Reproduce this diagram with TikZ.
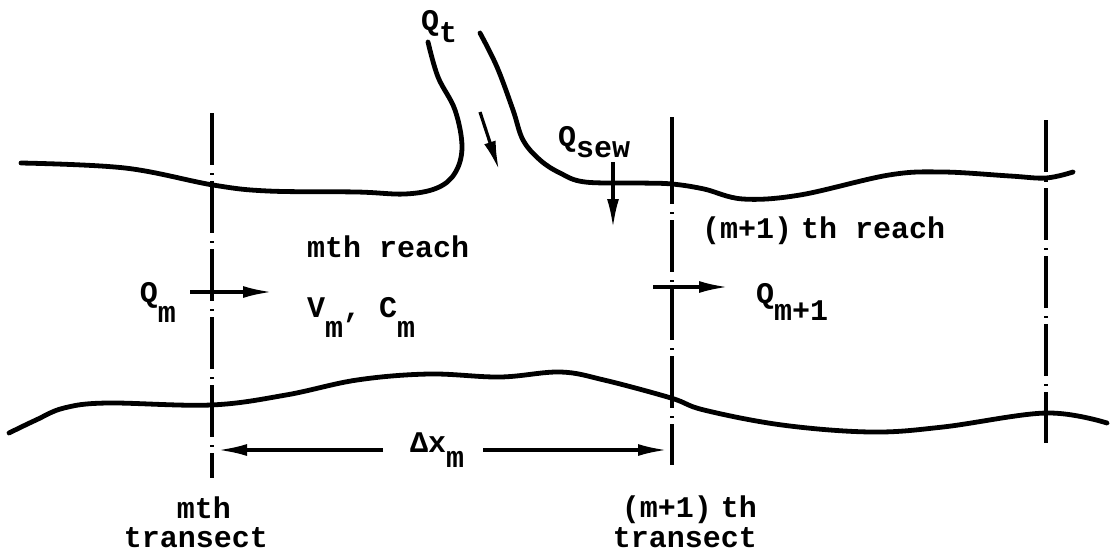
\documentclass[tikz,border=0pt]{standalone}
\usepackage{fontspec}
\setmonofont{Liberation Mono}
\usepackage{tikz}
\usetikzlibrary{arrows.meta}
\newcommand{\lo}[2][15pt]{\raisebox{-#1}{#2}}

\begin{document}
\begin{tikzpicture}[x=1pt, y=-1pt, >={Latex[length=29pt,width=12pt]},
  font={\fontsize{30}{30}\selectfont\ttfamily\bfseries},
  bank/.style={line width=4.8pt, line cap=round, line join=round},
  transect/.style={line width=3.2pt, dash pattern=on 52pt off 8pt on 2pt off 6pt},
  flow/.style={line width=3.2pt, ->},
  lbl/.style={inner sep=0pt, anchor=base west}]
  \useasboundingbox (0,0) rectangle (1113,555);
  % river banks and tributary
  \draw[bank] plot[smooth, tension=0.6] coordinates {(21,163) (125,168) (213,185) (268,191) (357,192) (405,194) (437,188) (455,173) (462,147) (455,110) (438,77) (428,42)};
  \draw[bank] plot[smooth, tension=0.6] coordinates {(480,33) (497,67) (513,110) (523,140) (540,160) (560,173) (585,182) (640,183) (672,184) (704,189) (743,199) (800,195) (889,175) (943,172) (1010,176) (1046,178) (1073,172)};
  \draw[bank] plot[smooth, tension=0.6] coordinates {(9,433) (36,420) (64,408) (107,403) (211,405) (286,395) (357,380) (429,374) (500,377) (560,372) (604,380) (671,398) (704,410) (782,425) (871,432) (943,427) (1046,413) (1107,423)};
  % transects
  \foreach \n/\x/\a/\b/\p in {1/212/113/478/0, 2/672/117/465/33, 3/1046/120/443/0} {
    \coordinate (t\n a) at (\x,\a); \coordinate (t\n b) at (\x,\b);
    \draw[transect, dash phase=\p pt] (t\n a) -- (t\n b);
  }
  \draw[line width=3.2pt] (t2a) -- ++(0,68);
  % labels
  \node[lbl] (qt) at (421,30) {Q\lo[12pt]{t}};
  \node[lbl] (qsew) at (558,146) {Q\lo[11pt]{sew}};
  \node[lbl] (reachm) at (307,257) {mth reach};
  \node[lbl] (vc) at (307,317) {V\lo[20pt]{m}, C\lo[20pt]{m}};
  \node[lbl, anchor=base east] (qm) at (176,302) {Q\lo[20pt]{m}};
  \node[lbl] (reachn) at (702,238) {(m+1)\kern-.3em\ th reach};
  \node[lbl] (qn) at (756,303) {Q\lo[17pt]{m+1}};
  \node[lbl] (dx) at (410,452) {Δx\lo[15pt]{m}};
  \node[lbl, anchor=base] (tra1) at (204,518) {mth};
  \node[lbl, anchor=base] (trb1) at (196,547) {transect};
  \node[lbl, anchor=base east] (tra2) at (757,517) {(m+1)\kern-.3em\ th};
  \node[lbl, anchor=base east] (trb2) at (757,547) {transect};
  % flows
  \coordinate (qta) at (480,112); \coordinate (qtb) at (499,170);
  \coordinate (qsa) at (613,162); \coordinate (qsb) at (613,228);
  \coordinate (qma) at (190,292); \coordinate (qmb) at (272,292);
  \coordinate (qna) at (653,287); \coordinate (qnb) at (728,287);
  \coordinate (dxa) at (383,450); \coordinate (dxb) at (483,450);
  \draw[flow] (qta) -- (qtb);
  \draw[flow] (qsa) -- (qsb);
  \draw[flow] (qma) -- (qmb);
  \draw[flow] (qna) -- (qnb);
  \draw[flow] (dxa) -- (218,450);
  \draw[flow] (dxb) -- (667,450);
\end{tikzpicture}
\end{document}
